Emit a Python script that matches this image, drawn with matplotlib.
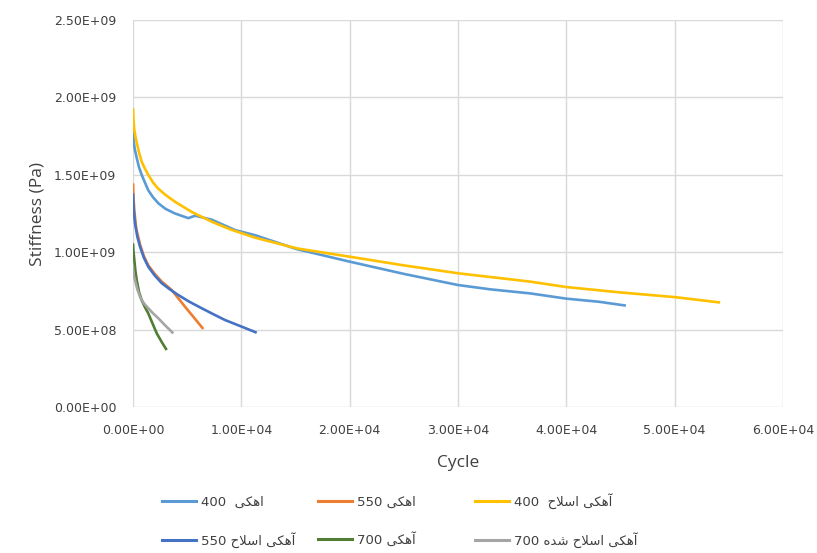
import matplotlib
matplotlib.use("Agg")
import matplotlib.pyplot as plt
from matplotlib.ticker import FuncFormatter
from matplotlib.lines import Line2D

# --- data (cycle, stiffness in Pa) ---
x_400 = [0, 60, 150, 340, 550, 800, 1100, 1410, 1850, 2340, 3000, 3880, 5110, 5730, 7270, 9420, 11260, 15110, 20000,
         25000, 30000, 33000, 36660, 40000, 43000, 45500]
y_400 = [1.78e9, 1.72e9, 1.67e9, 1.61e9, 1.55e9, 1.50e9, 1.45e9, 1.40e9, 1.355e9, 1.316e9, 1.28e9, 1.25e9, 1.22e9, 1.236e9, 1.21e9, 1.143e9, 1.11e9, 1.02e9, 0.939e9,
         0.86e9, 0.788e9, 0.76e9, 0.734e9, 0.70e9, 0.68e9, 0.655e9]

x_550 = [0, 40, 120, 300, 650, 1000, 1410, 2000, 2650, 3570, 4800, 6490]
y_550 = [1.445e9, 1.36e9, 1.27e9, 1.15e9, 1.05e9, 0.975e9, 0.915e9, 0.86e9, 0.81e9, 0.756e9, 0.648e9, 0.504e9]

x_400m = [0, 50, 120, 220, 340, 550, 800, 1100, 1410, 1850, 2340, 3000, 3880, 5420, 7270, 8960, 11260, 15110, 20000, 25000,
          30000, 36660, 40000, 45000, 50000, 54200]
y_400m = [1.93e9, 1.85e9, 1.79e9, 1.75e9, 1.71e9, 1.645e9, 1.585e9, 1.54e9, 1.50e9, 1.45e9, 1.41e9, 1.37e9, 1.326e9, 1.26e9, 1.197e9, 1.148e9, 1.094e9, 1.025e9, 0.971e9, 0.915e9,
          0.864e9, 0.81e9, 0.775e9, 0.74e9, 0.71e9, 0.675e9]

x_550m = [0, 30, 80, 185, 400, 650, 1000, 1410, 2000, 2650, 3400, 4190, 5200, 6340, 7400, 8490, 10000, 11420]
y_550m = [1.38e9, 1.32e9, 1.26e9, 1.187e9, 1.10e9, 1.035e9, 0.965e9, 0.906e9, 0.85e9, 0.80e9, 0.76e9, 0.723e9, 0.68e9, 0.638e9, 0.60e9, 0.562e9, 0.52e9, 0.48e9]

x_700 = [0, 50, 120, 220, 340, 550, 800, 1100, 1410, 1800, 2190, 2650, 3110]
y_700 = [1.057e9, 1.0e9, 0.95e9, 0.88e9, 0.82e9, 0.745e9, 0.69e9, 0.645e9, 0.605e9, 0.54e9, 0.476e9, 0.42e9, 0.368e9]

x_700m = [0, 30, 90, 185, 400, 650, 1000, 1410, 1850, 2340, 3000, 3720]
y_700m = [0.906e9, 0.87e9, 0.845e9, 0.82e9, 0.76e9, 0.712e9, 0.67e9, 0.638e9, 0.605e9, 0.573e9, 0.525e9, 0.476e9]

labels = ["اهکی  400", "اهکی 550", "آهکی اصلاح  400",
          "آهکی اصلاح 550", "آهکی 700", "آهکی اصلاح شده 700"]
colors = ["#5B9BD5", "#ED7D31", "#FFC000", "#4472C4", "#507E32", "#A5A5A5"]

# --- tiny arabic/persian shaper (matplotlib does no shaping or bidi) ---
# (isolated, final, initial, medial); None = letter does not join to the next one
FORMS = {
    "ا": ("\uFE8D", "\uFE8E", None, None),
    "آ": ("\uFE81", "\uFE82", None, None),
    "د": ("\uFEA9", "\uFEAA", None, None),
    "ه": ("\uFEE9", "\uFEEA", "\uFEEB", "\uFEEC"),
    "ک": ("\uFB8E", "\uFB8F", "\uFB90", "\uFB91"),
    "ی": ("\uFBFC", "\uFBFD", "\uFBFE", "\uFBFF"),
    "ص": ("\uFEB1", "\uFEB2", "\uFEB3", "\uFEB4"),
    "ح": ("\uFEA1", "\uFEA2", "\uFEA3", "\uFEA4"),
    "ش": ("\uFEB5", "\uFEB6", "\uFEB7", "\uFEB8"),
    "ل": ("\uFEDD", "\uFEDE", "\uFEDF", "\uFEE0"),
    "لا": ("\uFEFB", "\uFEFC", None, None),
}


def shape_word(word):
    letters = []
    i = 0
    while i < len(word):
        if word[i:i + 2] == "لا":
            letters.append("لا")
            i += 2
        else:
            letters.append(word[i])
            i += 1
    out = []
    for k, ch in enumerate(letters):
        prev_joins = k > 0 and FORMS[letters[k - 1]][2] is not None
        next_exists = k < len(letters) - 1
        iso, fin, ini, med = FORMS[ch]
        can_next = ini is not None and next_exists
        if prev_joins and can_next:
            out.append(med)
        elif prev_joins:
            out.append(fin)
        elif can_next:
            out.append(ini)
        else:
            out.append(iso)
    return "".join(reversed(out))


def rtl(text):
    parts = []
    for tok in text.split(" "):
        parts.append(tok if tok.isdigit() else shape_word(tok))
    return " ".join(reversed(parts))


plt.rcParams["font.family"] = ["DejaVu Sans"]

fig = plt.figure(figsize=(8.17, 5.53), dpi=100)
ax = fig.add_axes([0.1628, 0.264, 0.7956, 0.6998])

series = [(x_400, y_400), (x_550, y_550), (x_400m, y_400m),
          (x_550m, y_550m), (x_700, y_700), (x_700m, y_700m)]
for (xs, ys), c in zip(series, colors):
    ax.plot(xs, ys, color=c, lw=1.9, solid_capstyle="butt", solid_joinstyle="round")

ax.set_xlim(0, 6e4)
ax.set_ylim(0, 2.5e9)
ax.set_xticks([0, 1e4, 2e4, 3e4, 4e4, 5e4, 6e4])
ax.set_yticks([0, 5e8, 1e9, 1.5e9, 2e9, 2.5e9])
sci = FuncFormatter(lambda v, p: "{:.2E}".format(v))
ax.xaxis.set_major_formatter(sci)
ax.yaxis.set_major_formatter(sci)
ax.tick_params(length=0, labelsize=9, labelcolor="#404040", pad=12)
ax.grid(True, color="#d9d9d9", lw=1)
ax.set_axisbelow(True)
for s in ax.spines.values():
    s.set_visible(False)

ax.set_xlabel("Cycle", fontsize=12.5, color="#404040", labelpad=13,
              family=["Open Sans", "DejaVu Sans"])
ax.set_ylabel("Stiffness (Pa)", fontsize=12.5, color="#404040", labelpad=6,
              family=["Open Sans", "DejaVu Sans"])

# legend: three columns, filled row by row like Excel
col_x = [162 / 817, 318 / 817, 475 / 817]
col_top = [496, 496, 493]
for j in range(3):
    idx = [j, j + 3]
    handles = [Line2D([], [], color=colors[i], lw=2.2) for i in idx]
    leg = fig.legend(handles, [rtl(labels[i]) for i in idx], loc="upper left",
                     bbox_to_anchor=(col_x[j], 1 - col_top[j] / 553), frameon=False,
                     fontsize=9.5, handlelength=2.6, handletextpad=0.35,
                     labelspacing=1.75, borderpad=0, borderaxespad=0)
    for t in leg.get_texts():
        t.set_color("#404040")

fig.savefig("out.png", dpi=100)
